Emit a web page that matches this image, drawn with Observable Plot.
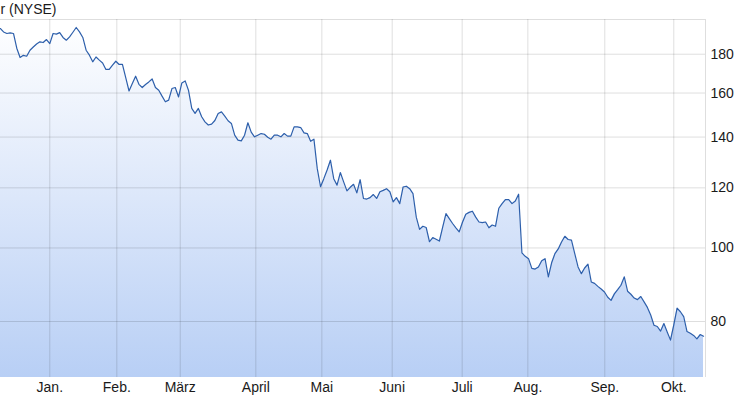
<!DOCTYPE html>
<html>
<head>
<meta charset="utf-8">
<script src="https://cdn.jsdelivr.net/npm/d3@7"></script>
<script src="https://cdn.jsdelivr.net/npm/@observablehq/plot@0.6"></script>
<style>
  body { margin: 0; background: #fff; }
  #chart svg { display: block; }
</style>
</head>
<body>
<div id="chart"></div>
<script>
// Title (cut off on the left in the original)
const title = "r (NYSE)";

// Daily closing prices, one per trading day (mid-Dec to mid-Oct)
const prices = [
  194.6, 192.6, 191.7, 192.0, 191.7, 183.3, 178.2, 179.4, 178.9, 182.2, 184.0, 185.7, 186.9, 186.5, 188.2,
  185.9, 191.7, 191.3, 192.2, 189.4, 187.8, 189.7, 192.4, 195.2, 192.6,
  189.4, 182.2, 179.5, 175.9, 178.5, 176.8, 175.3, 171.9, 171.9, 174.1,
  176.2, 174.5, 174.5, 167.7, 161.0, 164.7, 168.4, 164.3, 162.7, 164.2,
  165.5, 167.0, 162.7, 161.4, 158.5, 155.8, 156.6, 162.2, 162.7, 158.1,
  165.0, 166.0, 161.4, 152.7, 150.4, 152.7, 148.9, 146.6, 145.2, 145.6,
  147.2, 150.4, 151.1, 149.2, 147.1, 145.9, 140.8, 138.7, 138.4, 140.8,
  146.2, 142.1, 140.1, 140.8, 141.5, 141.2, 139.9, 139.1, 140.8, 140.8,
  140.1, 141.5, 140.4, 140.4, 144.4, 144.4, 144.1, 141.8, 141.5, 138.2,
  139.1, 127.3, 120.4, 123.4, 126.7, 130.5, 123.4, 121.0, 125.7, 122.2,
  118.9, 120.2, 121.3, 118.2, 123.0, 116.2, 116.0, 116.5, 117.6, 116.2,
  118.6, 119.1, 119.7, 118.6, 115.0, 116.5, 114.4, 120.3, 120.6, 119.7,
  117.9, 109.8, 105.8, 106.8, 106.4, 101.9, 103.2, 102.7, 102.1, 106.5,
  111.0, 109.3, 107.7, 106.3, 105.0, 108.1, 110.8, 111.4, 111.8, 109.8,
  108.2, 108.0, 108.2, 106.3, 107.2, 106.8, 112.8, 114.4, 115.8, 115.8,
  114.4, 115.3, 117.7, 98.5, 97.5, 96.8, 94.0, 93.8, 94.4, 96.2,
  96.8, 91.6, 95.6, 98.3, 99.7, 101.8, 103.6, 102.6, 102.4, 98.3,
  94.4, 92.5, 94.1, 95.2, 90.2, 89.8, 89.0, 88.3, 87.5, 86.1,
  85.3, 87.0, 88.1, 89.3, 91.6, 87.7, 86.9, 85.9, 85.5, 86.3,
  84.9, 83.5, 81.6, 79.1, 78.8, 77.7, 79.5, 77.5, 75.6, 79.2,
  83.3, 82.4, 81.2, 77.6, 77.2, 76.7, 75.9, 76.9, 76.5
];

// Month starts on the trading-day axis and their labels
const monthTicks = [15, 35.3, 54.5, 77.4, 97.4, 118.7, 139.9, 159.8, 183.1, 204.0];
const monthLabels = ["Jan.", "Feb.", "März", "April", "Mai", "Juni", "Juli", "Aug.", "Sep.", "Okt."];

// Price axis ticks (log scale)
const yTicks = [80, 100, 120, 140, 160, 180];
const yDomain = [67.5, 200];
const xDomain = [0.07, 213.6];

const data = prices.map((v, i) => ({ i, v }));
const grid = { stroke: "#000", strokeOpacity: 0.13, strokeWidth: 1 };

const svg = Plot.plot({
  width: 741,
  height: 405,
  marginTop: 19,
  marginRight: 36,
  marginBottom: 28,
  marginLeft: 0,
  style: {
    fontFamily: "'Liberation Sans', Arial, sans-serif",
    fontSize: "14px",
    color: "#1a1a1a",
    background: "#fff"
  },
  x: {
    domain: xDomain,
    ticks: monthTicks,
    tickFormat: d => monthLabels[monthTicks.indexOf(d)],
    tickSize: 0,
    tickPadding: 5,
    label: null
  },
  y: {
    type: "log",
    domain: yDomain,
    axis: "right",
    ticks: yTicks,
    tickFormat: d => String(d),
    tickSize: 0,
    tickPadding: 5,
    label: null
  },
  marks: [
    Plot.areaY(data, { x: "i", y1: yDomain[0], y2: "v", fill: "url(#priceFill)" }),
    Plot.ruleY(yTicks, grid),
    Plot.ruleX(monthTicks, grid),
    Plot.ruleY([yDomain[1]], grid),
    Plot.ruleX([xDomain[1]], grid),
    Plot.line(data, { x: "i", y: "v", stroke: "#2d5fab", strokeWidth: 1.2 }),
    Plot.text([title], {
      text: d => d,
      frameAnchor: "top-left",
      textAnchor: "start",
      lineAnchor: "bottom",
      dy: -6,
      fontSize: 14,
      fill: "#1a1a1a"
    })
  ]
});

const ns = "http://www.w3.org/2000/svg";
const defs = document.createElementNS(ns, "defs");
const grad = document.createElementNS(ns, "linearGradient");
grad.setAttribute("id", "priceFill");
grad.setAttribute("gradientUnits", "userSpaceOnUse");
grad.setAttribute("x1", "0"); grad.setAttribute("x2", "0");
grad.setAttribute("y1", "19"); grad.setAttribute("y2", "377");
[["0", "#ffffff"], ["0.5", "#dce7fa"], ["1", "#b8cff5"]].forEach(([o, c]) => {
  const s = document.createElementNS(ns, "stop");
  s.setAttribute("offset", o);
  s.setAttribute("stop-color", c);
  grad.appendChild(s);
});
defs.appendChild(grad);
svg.insertBefore(defs, svg.firstChild);

document.getElementById("chart").appendChild(svg);
</script>
</body>
</html>
